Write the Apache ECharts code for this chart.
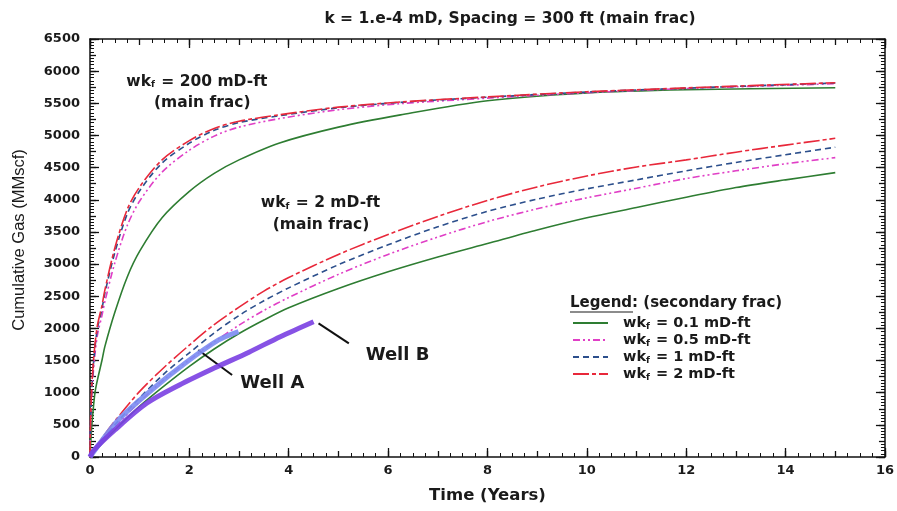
<!DOCTYPE html>
<html>
<head>
<meta charset="utf-8">
<script src="https://cdn.jsdelivr.net/npm/echarts@6/dist/echarts.min.js"></script>
<style>
  html, body { margin: 0; padding: 0; background: #fff; }
  #chart { width: 897px; height: 511px; }
</style>
</head>
<body>
<div id="chart"></div>
<script>
// Time samples (years)
const timeMain200 = [0, 0.01, 0.03, 0.06, 0.1, 0.15, 0.24, 0.3, 0.5, 0.75, 1, 1.45, 2, 2.5, 3, 3.8, 5, 6.25, 8, 10, 12, 15];
const timeMain2 = [0, 0.25, 0.5, 1, 1.5, 2, 2.5, 3, 3.5, 4, 5, 6, 7, 8, 9, 10, 11, 12, 13, 14, 15];

// Cumulative gas (MMscf), main frac wkf = 200 mD-ft
const m200_sec01 = [0, 150, 420, 700, 1000, 1200, 1500, 1720, 2250, 2800, 3200, 3720, 4130, 4410, 4620, 4880, 5130, 5320, 5540, 5660, 5710, 5743];
const m200_sec05 = [0, 450, 900, 1250, 1600, 1900, 2200, 2420, 3020, 3600, 3980, 4430, 4770, 4990, 5130, 5260, 5400, 5495, 5580, 5665, 5730, 5805];
const m200_sec1  = [0, 480, 950, 1350, 1700, 2000, 2300, 2550, 3180, 3780, 4140, 4570, 4880, 5080, 5200, 5305, 5430, 5515, 5595, 5675, 5735, 5815];
const m200_sec2  = [0, 500, 1000, 1400, 1750, 2050, 2350, 2600, 3250, 3850, 4200, 4620, 4920, 5110, 5220, 5320, 5440, 5520, 5600, 5680, 5740, 5820];

// Cumulative gas (MMscf), main frac wkf = 2 mD-ft
const m2_sec01 = [0, 220, 420, 790, 1110, 1410, 1680, 1920, 2130, 2320, 2620, 2880, 3110, 3320, 3530, 3720, 3880, 4040, 4190, 4310, 4422];
const m2_sec05 = [0, 250, 470, 860, 1210, 1510, 1790, 2050, 2280, 2480, 2840, 3150, 3420, 3660, 3860, 4030, 4180, 4330, 4450, 4560, 4655];
const m2_sec1  = [0, 270, 500, 920, 1300, 1620, 1930, 2200, 2430, 2630, 2990, 3300, 3580, 3820, 4010, 4170, 4310, 4450, 4580, 4700, 4817];
const m2_sec2  = [0, 300, 560, 1020, 1400, 1740, 2060, 2330, 2580, 2790, 3150, 3460, 3740, 3990, 4200, 4370, 4510, 4620, 4740, 4850, 4956];

// Field production history
const wellATime = [0, 0.1, 0.57, 1.24, 1.92, 2.59, 2.99];
const wellAGas  = [0, 109, 575, 1042, 1462, 1820, 1950];
const wellBTime = [0, 0.07, 0.5, 1.14, 1.8, 2.49, 3.2, 3.83, 4.5];
const wellBGas  = [0, 100, 420, 835, 1120, 1379, 1630, 1871, 2104];

// Legend entries (secondary frac conductivity)
const legendNames = ['wkf = 0.1 mD-ft', 'wkf = 0.5 mD-ft', 'wkf = 1 mD-ft', 'wkf = 2 mD-ft'];

const FONT = '"DejaVu Sans", Verdana, sans-serif';
const INK = '#1a1a1a';

function pairs(t, v) { return t.map((x, i) => [x, v[i]]); }

// "wkf" with the f as subscript
function subLabel(s, lead) {
  const rest = s.replace(/^wkf/, '');
  return (lead ? '{g|}' : '') + '{n|wk}{s|f}{n|' + rest + '}';
}
const richText = (size) => ({
  g: { width: 10 },
  n: { fontFamily: FONT, fontWeight: 'bold', fontSize: size, color: INK, lineHeight: size + 4 },
  s: { fontFamily: FONT, fontWeight: 'bold', fontSize: Math.round(size * 0.6), color: INK, padding: [7, 1, 0, 0], lineHeight: size + 4 }
});

const styles = [
  { color: '#2e7d32', type: 'solid' },
  { color: '#e03fc6', type: [7, 3, 2, 3, 2, 3] },
  { color: '#2c4f8c', type: [6, 4] },
  { color: '#e8283a', type: [16, 3, 4, 3] }
];
const upper = [m200_sec01, m200_sec05, m200_sec1, m200_sec2];
const lower = [m2_sec01, m2_sec05, m2_sec1, m2_sec2];

const series = [];
legendNames.forEach((name, i) => {
  [[timeMain200, upper[i]], [timeMain2, lower[i]]].forEach(([t, v]) => {
    series.push({
      name: name,
      type: 'line',
      data: pairs(t, v),
      symbol: 'none',
      smooth: 0.3,
      lineStyle: { color: styles[i].color, type: styles[i].type, width: 1.6 },
      itemStyle: { color: styles[i].color },
      z: 3 + i
    });
  });
});

const annoLabel = (size) => ({ show: true, position: 'inside', rich: richText(size), fontFamily: FONT, fontWeight: 'bold', fontSize: size, color: INK });

function textPoint(coord, formatter, size) {
  return { coord: coord, symbol: 'circle', symbolSize: 0, label: Object.assign(annoLabel(size), { formatter: formatter }) };
}

series.push({
  name: 'Well A',
  type: 'line',
  data: pairs(wellATime, wellAGas),
  symbol: 'none',
  smooth: 0.3,
  lineStyle: { color: '#7b8cf2', width: 5, opacity: 0.9 },
  z: 8,
  markLine: {
    silent: true,
    symbol: ['none', 'arrow'],
    symbolSize: [0, 10],
    lineStyle: { color: '#111', width: 2, type: 'solid' },
    label: { show: false },
    data: [[{ coord: [2.86, 1275] }, { coord: [2.18, 1664] }]]
  },
  markPoint: {
    silent: true,
    data: [textPoint([3.67, 1151], '{n|Well A}', 18)]
  }
});

series.push({
  name: 'Well B',
  type: 'line',
  data: pairs(wellBTime, wellBGas),
  symbol: 'none',
  smooth: 0.3,
  lineStyle: { color: '#7a3fe2', width: 5, opacity: 0.9 },
  z: 9,
  markLine: {
    silent: true,
    symbol: ['none', 'arrow'],
    symbolSize: [0, 10],
    lineStyle: { color: '#111', width: 2, type: 'solid' },
    label: { show: false },
    data: [[{ coord: [5.21, 1768] }, { coord: [4.6, 2079] }]]
  },
  markPoint: {
    silent: true,
    data: [
      textPoint([6.19, 1586], '{n|Well B}', 18),
      textPoint([2.15, 5837], subLabel('wkf = 200 mD-ft'), 15.5),
      textPoint([2.26, 5501], '{n|(main frac)}', 15.5),
      textPoint([4.64, 3946], subLabel('wkf = 2 mD-ft'), 15.5),
      textPoint([4.65, 3608], '{n|(main frac)}', 15.5)
    ]
  }
});

const tickLabel = { fontFamily: FONT, fontWeight: 'bold', fontSize: 13, color: INK };
const frameLine = (show) => ({ show: show, onZero: false, lineStyle: { color: '#111', width: 1.5 } });

function xAx(pos, interval, len, labels, minor) {
  return {
    type: 'value', min: 0, max: 16, interval: interval, position: pos,
    axisLine: frameLine(minor),
    axisTick: { show: true, inside: true, length: len, lineStyle: { color: '#111', width: 1.3 } },
    minorTick: { show: minor, splitNumber: 8, length: 4, lineStyle: { color: '#111', width: 1 } },
    axisLabel: labels ? Object.assign({ margin: 7 }, tickLabel) : { show: false },
    splitLine: { show: false },
    name: labels ? 'Time (Years)' : '',
    nameLocation: 'middle', nameGap: 30,
    nameTextStyle: { fontFamily: FONT, fontWeight: 'bold', fontSize: 16.5, color: INK }
  };
}
function yAx(pos, interval, len, labels, minor) {
  return {
    type: 'value', min: 0, max: 6500, interval: interval, position: pos,
    axisLine: frameLine(minor),
    axisTick: { show: true, inside: true, length: len, lineStyle: { color: '#111', width: 1.3 } },
    minorTick: { show: minor, splitNumber: 10, length: 4, lineStyle: { color: '#111', width: 1 } },
    axisLabel: labels ? Object.assign({ margin: 10, formatter: (v) => String(v) }, tickLabel) : { show: false },
    splitLine: { show: false }
  };
}

const option = {
  backgroundColor: '#ffffff',
  animation: false,
  title: {
    text: 'k = 1.e-4 mD, Spacing = 300 ft (main frac)',
    left: 505, top: 6, textAlign: 'center',
    textStyle: { fontFamily: FONT, fontWeight: 'bold', fontSize: 15.5, color: INK }
  },
  grid: { left: 90, right: 12, top: 39, bottom: 54, containLabel: false },
  xAxis: [
    xAx('bottom', 2, 9, true, true),
    xAx('bottom', 1, 6, false, false),
    xAx('top', 2, 9, false, true),
    xAx('top', 1, 6, false, false)
  ],
  yAxis: [
    yAx('left', 500, 9, true, true),
    yAx('left', 250, 6, false, false),
    yAx('right', 500, 9, false, true),
    yAx('right', 250, 6, false, false)
  ],
  legend: {
    data: legendNames,
    orient: 'vertical',
    left: 572, top: 315,
    padding: 0,
    itemWidth: 35, itemHeight: 12, itemGap: 1,
    itemStyle: { opacity: 0 },
    formatter: (name) => subLabel(name, true),
    textStyle: { rich: richText(14.5) },
    selectedMode: false
  },
  graphic: [
    {
      type: 'text', left: 570, top: 296,
      style: { text: 'Legend: (secondary frac)', font: 'bold 15px ' + FONT, fill: INK }
    },
    {
      type: 'line', shape: { x1: 570, y1: 312, x2: 633, y2: 312 },
      style: { stroke: INK, lineWidth: 1.2 }
    },
    {
      type: 'text', x: 19, y: 240, rotation: Math.PI / 2,
      style: {
        text: 'Cumulative Gas (MMscf)', font: '16.5px "Liberation Sans", Arial, sans-serif',
        fill: INK, align: 'center', verticalAlign: 'middle'
      }
    }
  ],
  series: series
};

const chart = echarts.init(document.getElementById('chart'), null, { renderer: 'canvas' });
chart.setOption(option);
</script>
</body>
</html>
